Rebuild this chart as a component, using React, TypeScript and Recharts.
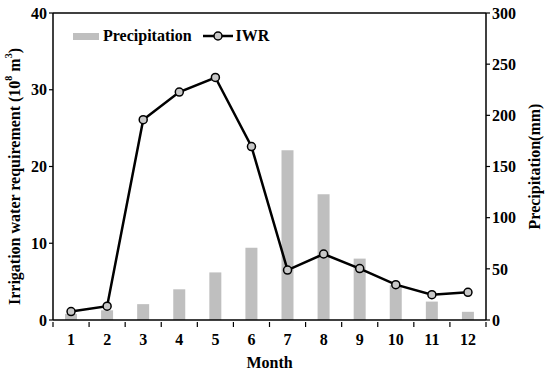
import {
  Bar,
  ComposedChart,
  Line,
  ReferenceLine,
  XAxis,
  YAxis,
} from "recharts";

const MONTHS = [1, 2, 3, 4, 5, 6, 7, 8, 9, 10, 11, 12];
const PRECIPITATION = [6, 9.5, 15.5, 30, 46.5, 70.5, 166, 123, 60, 34, 18, 8];
const IWR = [1.1, 1.8, 26.1, 29.7, 31.6, 22.6, 6.5, 8.6, 6.7, 4.6, 3.3, 3.6];
const IWR_TICKS = [0, 10, 20, 30, 40];
const PRECIP_TICKS = [0, 50, 100, 150, 200, 250, 300];

const FONT = "'Liberation Serif', 'Times New Roman', serif";
const BAR_COLOUR = "#bfbfbf";
const DOT_COLOUR = "#c8c8c8";

const rows = MONTHS.map((m, i) => ({
  month: m,
  precipitation: PRECIPITATION[i],
  iwr: IWR[i],
}));

// labels under the months, tick marks on the edges between them
const MONTH_EDGES = [...MONTHS.map((m) => m - 0.5), MONTHS[MONTHS.length - 1] + 0.5];
const X_TICKS = [...MONTH_EDGES, ...MONTHS].sort((a, b) => a - b);

const tickStyle = { fontSize: 16, fontWeight: 700, fill: "#000", fontFamily: FONT };

function MonthTick({ x, y, payload }: any) {
  const v = payload.value;
  if (!Number.isInteger(v)) {
    return <line x1={x} y1={y - 10} x2={x} y2={y - 5} stroke="#000" strokeWidth={1.2} />;
  }
  return (
    <text x={x} y={y + 13} textAnchor="middle" {...tickStyle}>
      {v}
    </text>
  );
}

function LeftTitle({ viewBox }: any) {
  const cx = viewBox.x + 14;
  const cy = viewBox.y + viewBox.height / 2 + 10;
  return (
    <text
      x={cx}
      y={cy}
      transform={`rotate(-90, ${cx}, ${cy})`}
      textAnchor="middle"
      dominantBaseline="central"
      fontFamily={FONT}
      fontWeight={700}
      fontSize={16}
      fill="#000"
    >
      Irrigation water requirement (10
      <tspan fontSize={10} dy={-6}>8</tspan>
      <tspan dy={6}> m</tspan>
      <tspan fontSize={10} dy={-6}>3</tspan>
      <tspan dy={6}>)</tspan>
    </text>
  );
}

function RightTitle({ viewBox }: any) {
  const cx = viewBox.x + 48;
  const cy = viewBox.y + viewBox.height / 2;
  return (
    <text
      x={cx}
      y={cy}
      transform={`rotate(-90, ${cx}, ${cy})`}
      textAnchor="middle"
      dominantBaseline="central"
      fontFamily={FONT}
      fontWeight={700}
      fontSize={16}
      fill="#000"
    >
      Precipitation(mm)
    </text>
  );
}

function LegendBox() {
  return (
    <div
      style={{
        position: "absolute",
        left: 73,
        top: 27,
        display: "flex",
        alignItems: "center",
        fontFamily: FONT,
        fontWeight: 700,
        fontSize: 16,
        color: "#000",
      }}
    >
      <span style={{ width: 26, height: 7, background: BAR_COLOUR, marginRight: 4 }} />
      <span style={{ marginRight: 10 }}>Precipitation</span>
      <svg width={32} height={12} style={{ marginRight: 2 }}>
        <line x1={1} y1={6} x2={31} y2={6} stroke="#000" strokeWidth={2.5} />
        <circle cx={16} cy={6} r={4} fill={DOT_COLOUR} stroke="#000" strokeWidth={1.5} />
      </svg>
      <span>IWR</span>
    </div>
  );
}

export default function App() {
  return (
    <div style={{ position: "relative", width: 550, height: 372, background: "#fff" }}>
      <style>{`body{margin:0}`}</style>
      <ComposedChart
        width={550}
        height={372}
        data={rows}
        margin={{ top: 13, right: 0, bottom: 0, left: 0 }}
      >
        <XAxis
          dataKey="month"
          type="number"
          domain={[0.5, 12.5]}
          ticks={X_TICKS}
          interval={0}
          height={52}
          tickLine={false}
          tickSize={8}
          tickMargin={4}
          axisLine={{ stroke: "#000", strokeWidth: 1.5 }}
          tick={<MonthTick />}
          allowDataOverflow
          label={{
            value: "Month",
            position: "insideBottom",
            offset: 4,
            style: tickStyle,
          }}
        />
        <YAxis
          yAxisId="left"
          domain={[0, 40]}
          ticks={IWR_TICKS}
          width={53}
          tickSize={4}
          tick={tickStyle}
          axisLine={{ stroke: "#000", strokeWidth: 1.5 }}
          tickLine={{ stroke: "#000", strokeWidth: 1.2 }}
          label={<LeftTitle />}
        />
        <YAxis
          yAxisId="right"
          orientation="right"
          domain={[0, 300]}
          ticks={PRECIP_TICKS}
          width={64}
          tickSize={4}
          tick={{ ...tickStyle, textAnchor: "start" }}
          axisLine={{ stroke: "#000", strokeWidth: 1.5 }}
          tickLine={{ stroke: "#000", strokeWidth: 1.2 }}
          label={<RightTitle />}
        />
        <ReferenceLine yAxisId="left" y={40} stroke="#000" strokeWidth={1.5} />
        <Bar
          yAxisId="right"
          dataKey="precipitation"
          name="Precipitation"
          fill={BAR_COLOUR}
          barSize={12}
          isAnimationActive={false}
        />
        <Line
          yAxisId="left"
          dataKey="iwr"
          name="IWR"
          type="linear"
          stroke="#000"
          strokeWidth={2.5}
          dot={{ r: 4, fill: DOT_COLOUR, stroke: "#000", strokeWidth: 1.5 }}
          isAnimationActive={false}
        />
      </ComposedChart>
      <LegendBox />
    </div>
  );
}
